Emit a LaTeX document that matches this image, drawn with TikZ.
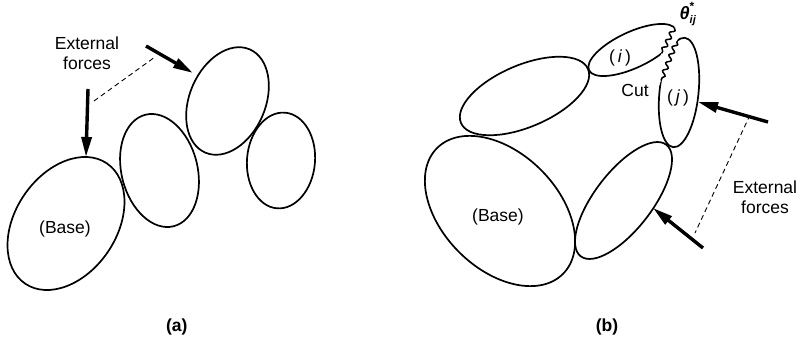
\documentclass[tikz,border=0pt]{standalone}
\usepackage{fontspec}
\setmainfont{Liberation Sans}
\usetikzlibrary{arrows.meta,decorations.pathmorphing,intersections}
\begin{document}
\begin{tikzpicture}[x=1pt,y=1pt,
  body/.style={line width=1.7pt},
  force/.style={line width=3.4pt,-{Triangle[length=20pt,width=10pt]}},
  guide/.style={line width=0.9pt,dash pattern=on 5pt off 3.5pt},
  cutline/.style={line width=1.5pt,decorate,decoration={snake,segment length=8.5pt,amplitude=2.2pt}},
  lbl/.style={font=\fontsize{17.5}{20}\selectfont,inner sep=0pt,align=center},
]
\useasboundingbox (0,0) rectangle (803,337);

% ---------- (a) ----------
\draw[body, rotate around={55.8:(66,113.5)}] (66,113.5) ellipse (72.7 and 50.6);
\draw[body, rotate around={104.2:(159.5,166.5)}] (159.5,166.5) ellipse (57.5 and 38);
\draw[body, rotate around={66.8:(227.5,236)}] (227.5,236) ellipse (56.2 and 38);
\draw[body, rotate around={85:(281,176.5)}] (281,176.5) ellipse (48 and 34);

\node[lbl] (extA) at (87,284) {External\\forces};
\node[lbl] (baseA) at (65,108) {(Base)};
\node[lbl,font=\fontsize{17.5}{20}\selectfont\bfseries] (capA) at (176.7,10) {(a)};

\coordinate (fa1s) at (88,248);
\coordinate (fa1t) at (86,180);
\coordinate (fa2s) at (146,291);
\coordinate (fa2t) at (193,264);
\coordinate (da1) at (94,236);
\coordinate (da2) at (155,280);
\draw[force] (fa1s) -- (fa1t);
\draw[force] (fa2s) -- (fa2t);
\draw[guide] (da1) -- (da2);

% ---------- (b) ----------
\draw[body, rotate around={135:(500,126)}] (500,126) ellipse (89 and 58);
\draw[body, rotate around={52.5:(623.5,136.5)}] (623.5,136.5) ellipse (70.3 and 28.8);
\draw[body, rotate around={23:(524.5,241)}] (524.5,241) ellipse (69 and 31);
\draw[body, name path=eI, rotate around={25:(632.5,287)}] (632.5,287) ellipse (48 and 18);
\draw[body, name path=eJ, rotate around={84:(679,244.5)}] (679,244.5) ellipse (55 and 19.5);

\path[name path=Li] (691.7,345.6) -- (640.8,240.5);
\path[name path=Lj] (696.4,345) -- (650.4,230);
\fill[white] (681.7,325) -- (700,325) -- (700,302) -- (679.2,302) -- (658.4,250) -- (645.4,250) -- cycle;
\path[name intersections={of=eI and Li, by={ci1,ci2}}];
\path[name intersections={of=eJ and Lj, by={cj1,cj2}}];
\draw[cutline] (ci1) -- (ci2);
\draw[cutline] (cj1) -- (cj2);

\node[lbl] (extB) at (765,139.6) {External\\forces};
\node[lbl] (baseB) at (498,120) {(Base)};
\node[lbl] (cut) at (635,247) {Cut};
\node[lbl] (li) at (620,279) {(\,\textit{i}\,)};
\node[lbl] (lj) at (678,239) {(\,\textit{j}\,)};
\node[lbl] (theta) at (688,323) {${\mbox{\fontsize{18}{18}\selectfont\bfseries\itshape θ}}^{\mbox{\fontsize{12}{12}\selectfont\bfseries *}}_{\mbox{\fontsize{11}{11}\selectfont\bfseries\itshape ij}}$};
\node[lbl,font=\fontsize{17.5}{20}\selectfont\bfseries] (capB) at (607,10) {(b)};

\coordinate (fb1s) at (768,215);
\coordinate (fb1t) at (698,235);
\coordinate (fb2s) at (703,89);
\coordinate (fb2t) at (653,129);
\coordinate (db1) at (750,222);
\coordinate (db2) at (695,104);
\draw[force] (fb1s) -- (fb1t);
\draw[force] (fb2s) -- (fb2t);
\draw[guide] (db1) -- (db2);
\end{tikzpicture}
\end{document}
